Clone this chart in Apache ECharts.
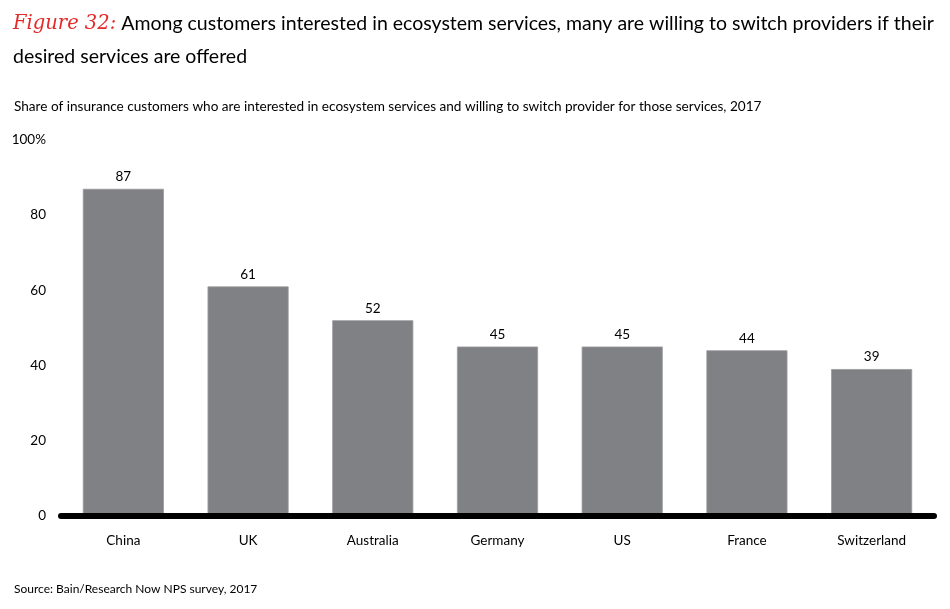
<!DOCTYPE html>
<html>
<head>
<meta charset="utf-8">
<script src="https://cdn.jsdelivr.net/npm/echarts@6/dist/echarts.min.js"></script>
<style>
html,body{margin:0;padding:0;background:#fff;}
#c{width:950px;height:609px;}
</style>
</head>
<body>
<div id="c"></div>
<script>
const categories = ['China', 'UK', 'Australia', 'Germany', 'US', 'France', 'Switzerland'];
const values = [87, 61, 52, 45, 45, 44, 39];
const yTicks = [0, 20, 40, 60, 80, 100];

const FONT = 'Lato, "Open Sans", sans-serif';
const chart = echarts.init(document.getElementById('c'));
chart.setOption({
  backgroundColor: '#fff',
  animation: false,
  title: [
    {
      left: 8, top: 2,
      text: '{fig|Figure 32:} {t|Among customers interested in ecosystem services, many are willing to switch providers if their}\n{t|desired services are offered}',
      textStyle: {
        fontWeight: 'normal',
        rich: {
          fig: { fontFamily: '"DejaVu Serif", serif', fontStyle: 'italic', fontWeight: 'normal', fontSize: 19.5, color: '#e32a2a', lineHeight: 33 },
          t: { fontFamily: FONT, fontSize: 19.5, fontWeight: 'normal', color: '#000', lineHeight: 33 }
        }
      }
    },
    {
      left: 9, top: 95,
      text: 'Share of insurance customers who are interested in ecosystem services and willing to switch provider for those services, 2017',
      textStyle: { fontFamily: FONT, fontSize: 13.6, fontWeight: 'normal', color: '#000' }
    },
    {
      left: 9, top: 578,
      text: 'Source: Bain/Research Now NPS survey, 2017',
      textStyle: { fontFamily: FONT, fontSize: 12, fontWeight: 'normal', color: '#000' }
    }
  ],
  grid: { left: 61, right: 16, top: 140, bottom: 93.5, containLabel: false },
  xAxis: {
    type: 'category',
    data: categories,
    z: 5,
    axisLine: { lineStyle: { color: '#000', width: 6 } },
    axisTick: { show: false },
    axisLabel: { fontFamily: FONT, fontSize: 13.5, color: '#000', margin: 18 }
  },
  yAxis: {
    type: 'value',
    min: 0, max: 100, interval: 20,
    axisLine: { show: false },
    axisTick: { show: false },
    splitLine: { show: false },
    axisLabel: {
      fontFamily: FONT, fontSize: 13.5, color: '#000', margin: 15,
      formatter: v => (yTicks.includes(v) ? (v === 100 ? '100%' : String(v)) : '')
    }
  },
  series: [{
    type: 'bar',
    data: values,
    barWidth: '65%',
    itemStyle: { color: '#808184', borderColor: '#9a9b9e', borderWidth: 0.8 },
    label: { show: true, position: 'top', distance: 5, fontFamily: FONT, fontSize: 13.5, color: '#000' }
  }]
});
</script>
</body>
</html>
